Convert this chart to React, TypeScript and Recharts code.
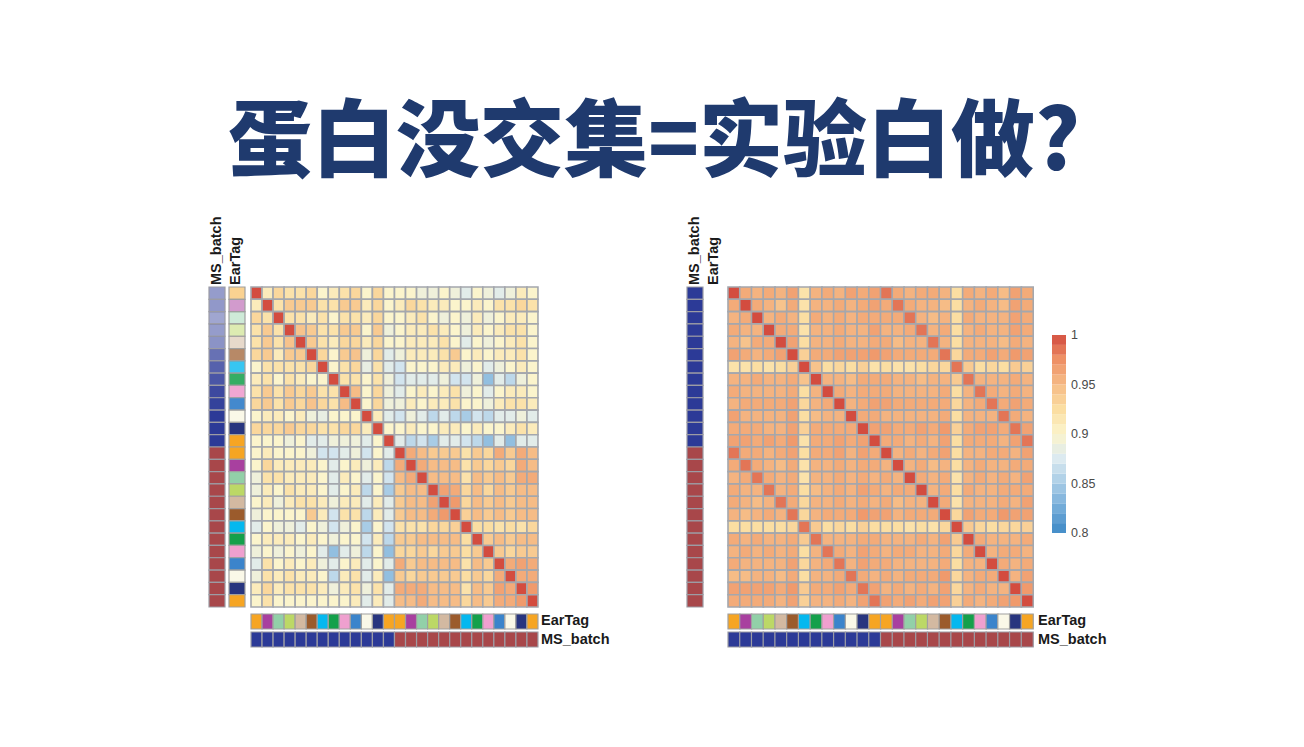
import React from "react";
import { BarChart, Bar, Cell, XAxis, YAxis } from "recharts";

// 26 samples: the same 13 ear tags measured in two MS batches
const EAR_TAGS = [
  "orange", "purple", "mint", "lime", "tan", "brown", "cyan", "green", "pink", "blue", "white", "navy", "orange",
  "orange", "purple", "mint", "lime", "tan", "brown", "cyan", "green", "pink", "blue", "white", "navy", "orange",
];
const MS_BATCHES = [
  "b1", "b1", "b1", "b1", "b1", "b1", "b1", "b1", "b1", "b1", "b1", "b1", "b1",
  "b2", "b2", "b2", "b2", "b2", "b2", "b2", "b2", "b2", "b2", "b2", "b2", "b2",
];

// correlation, upper triangle only (row i holds columns i+1..25)
const LEFT_UPPER = [
  [.91, .93, .92, .92, .93, .90, .91, .92, .93, .90, .93, .90, .90, .90, .89, .89, .90, .89, .88, .90, .89, .88, .89, .91, .90],
  [.92, .94, .94, .94, .92, .92, .94, .94, .91, .93, .90, .91, .93, .92, .91, .91, .90, .90, .91, .90, .92, .92, .93, .92],
  [.92, .92, .91, .92, .90, .92, .92, .91, .93, .90, .90, .91, .92, .90, .89, .90, .89, .91, .89, .90, .91, .91, .90],
  [.945, .94, .92, .92, .94, .94, .90, .94, .89, .90, .91, .91, .92, .91, .90, .89, .91, .90, .91, .92, .92, .90],
  [.94, .92, .91, .93, .93, .91, .93, .90, .90, .91, .91, .91, .92, .90, .88, .90, .89, .90, .91, .92, .90],
  [.93, .90, .94, .945, .89, .93, .88, .89, .91, .91, .91, .92, .94, .90, .91, .90, .91, .91, .92, .90],
  [.90, .92, .93, .885, .92, .88, .87, .90, .90, .90, .91, .91, .89, .90, .88, .89, .90, .91, .90],
  [.92, .92, .90, .92, .89, .87, .88, .88, .88, .89, .87, .87, .89, .84, .88, .86, .89, .90],
  [.95, .90, .93, .89, .88, .90, .91, .90, .91, .92, .89, .90, .88, .90, .91, .91, .90],
  [.90, .93, .89, .89, .91, .90, .91, .91, .92, .90, .90, .89, .91, .92, .92, .91],
  [.91, .88, .87, .89, .88, .86, .88, .86, .85, .87, .86, .88, .88, .89, .88],
  [.90, .90, .91, .90, .90, .91, .91, .90, .91, .90, .90, .91, .92, .91],
  [.88, .86, .87, .85, .88, .88, .87, .86, .84, .88, .84, .88, .88],
  [.96, .95, .94, .94, .94, .92, .94, .93, .96, .94, .96, .95],
  [.96, .95, .95, .95, .92, .94, .93, .94, .93, .96, .95],
  [.95, .95, .95, .92, .95, .94, .95, .94, .96, .96],
  [.965, .96, .93, .95, .93, .95, .94, .95, .95],
  [.97, .93, .95, .94, .95, .94, .95, .95],
  [.935, .95, .94, .95, .94, .95, .95],
  [.925, .925, .92, .925, .92, .93],
  [.94, .95, .94, .95, .95],
  [.94, .93, .94, .94],
  [.96, .965, .96],
  [.96, .96],
  [.97],
];

const RIGHT_UPPER = [
  [.96, .955, .96, .955, .965, .92, .955, .96, .955, .965, .96, .965, .985, .96, .955, .96, .96, .955, .925, .96, .955, .96, .95, .965, .96],
  [.96, .955, .945, .96, .92, .955, .955, .96, .955, .96, .965, .96, .985, .96, .955, .955, .95, .925, .955, .96, .955, .95, .965, .96],
  [.955, .96, .955, .925, .96, .955, .96, .955, .96, .96, .96, .96, .985, .955, .95, .955, .925, .96, .955, .955, .955, .965, .96],
  [.96, .96, .92, .955, .955, .96, .955, .955, .965, .955, .955, .96, .985, .955, .96, .925, .955, .96, .955, .955, .965, .96],
  [.965, .925, .955, .955, .96, .955, .955, .96, .96, .95, .955, .955, .985, .955, .925, .955, .955, .955, .95, .96, .955],
  [.935, .96, .96, .965, .965, .965, .97, .965, .96, .96, .96, .96, .985, .93, .96, .96, .965, .96, .97, .965],
  [.945, .925, .93, .925, .935, .92, .925, .92, .92, .925, .93, .93, .985, .94, .925, .93, .925, .94, .935],
  [.955, .955, .95, .96, .96, .96, .955, .955, .95, .955, .955, .94, .985, .955, .955, .955, .96, .955],
  [.96, .955, .96, .96, .96, .955, .955, .955, .955, .96, .925, .955, .985, .96, .955, .96, .955],
  [.955, .96, .965, .965, .96, .96, .96, .96, .96, .93, .955, .96, .985, .96, .965, .96],
  [.96, .96, .955, .955, .955, .955, .955, .96, .925, .955, .955, .955, .985, .96, .955],
  [.965, .965, .96, .96, .965, .96, .97, .935, .96, .965, .965, .96, .985, .965],
  [.96, .96, .955, .96, .955, .965, .925, .96, .96, .96, .955, .965, .985],
  [.955, .96, .955, .96, .965, .925, .955, .955, .96, .96, .955, .965],
  [.955, .96, .95, .955, .925, .955, .96, .955, .955, .96, .96],
  [.96, .955, .96, .92, .955, .96, .955, .96, .955, .965],
  [.955, .96, .925, .96, .955, .955, .96, .96, .96],
  [.96, .92, .955, .955, .955, .96, .955, .965],
  [.93, .965, .96, .96, .97, .965, .965],
  [.94, .93, .925, .93, .93, .935],
  [.96, .955, .955, .955, .96],
  [.955, .96, .96, .955],
  [.96, .955, .96],
  [.955, .965],
  [.97],
];

const LEGEND_TICKS = [0.8, 0.85, 0.9, 0.95, 1];

const TAG_COLORS: Record<string, string> = {
  orange: "#f6a523",
  purple: "#a8409f",
  mint: "#92d0a8",
  lime: "#bcd866",
  tan: "#d3b9a1",
  brown: "#9b5b2c",
  cyan: "#05b8ef",
  green: "#14a04b",
  pink: "#efa0cf",
  blue: "#3b84cb",
  white: "#faf8e8",
  navy: "#28357f",
};
const BATCH_COLORS: Record<string, string> = { b1: "#2c3a97", b2: "#a8474a" };

// RdYlBu-like ramp, 0.8 -> 1
const RAMP: [number, number[]][] = [
  [0.8, [62, 137, 198]],
  [0.825, [114, 171, 216]],
  [0.85, [168, 204, 230]],
  [0.875, [220, 234, 240]],
  [0.9, [251, 244, 204]],
  [0.925, [251, 222, 162]],
  [0.95, [246, 188, 134]],
  [0.975, [238, 145, 102]],
  [1, [211, 76, 63]],
];

const colorFor = (v: number) => {
  const x = Math.max(0.8, Math.min(1, v));
  for (let k = 1; k < RAMP.length; k++) {
    const [v1, c1] = RAMP[k];
    const [v0, c0] = RAMP[k - 1];
    if (x <= v1) {
      const t = (x - v0) / (v1 - v0);
      const c = c0.map((a, i) => Math.round(a + (c1[i] - a) * t));
      return `rgb(${c[0]},${c[1]},${c[2]})`;
    }
  }
  return "rgb(211,76,63)";
};

const fromUpper = (upper: number[][]) => {
  const n = upper.length + 1;
  const m = Array.from({ length: n }, () => Array(n).fill(1));
  upper.forEach((row, i) =>
    row.forEach((v, k) => {
      const j = i + 1 + k;
      m[i][j] = v;
      m[j][i] = v;
    })
  );
  return m as number[][];
};

// the top of the left-hand row annotation is washed out in the source image
const LEFT_FADE = [0.5, 0.52, 0.45, 0.5, 0.55, 0.72, 0.8, 0.86, 0.92, 0.96, 1, 1, 1, 1, 1, 1, 1, 1, 1, 1, 1, 1, 1, 1, 1, 1];

type TilesProps = {
  fills: string[][];
  width: number;
  height: number;
  stroke: string;
  strokeWidth?: number;
  opacity?: number[];
};

// a grid of coloured tiles: one stacked bar per column, one segment per row
const Tiles = ({ fills, width, height, stroke, strokeWidth = 1, opacity }: TilesProps) => {
  const nRows = fills.length;
  const nCols = fills[0].length;
  const data = Array.from({ length: nCols }, (_, j) => {
    const d: Record<string, number> = { col: j };
    for (let i = 0; i < nRows; i++) d[`r${i}`] = 1;
    return d;
  });
  return (
    <BarChart
      width={width + 2}
      height={height + 2}
      data={data}
      margin={{ top: 1, right: 1, bottom: 1, left: 1 }}
      barCategoryGap={0}
      barGap={0}
    >
      <XAxis dataKey="col" hide />
      <YAxis type="number" hide reversed domain={[0, nRows]} />
      {fills.map((row, i) => (
        <Bar
          key={i}
          dataKey={`r${i}`}
          stackId="t"
          isAnimationActive={false}
          stroke={stroke}
          strokeWidth={strokeWidth}
        >
          {row.map((f, j) => (
            <Cell key={j} fill={f} fillOpacity={opacity ? opacity[i] : 1} />
          ))}
        </Bar>
      ))}
    </BarChart>
  );
};

const Place: React.FC<{ left: number; top: number; children: React.ReactNode }> = ({ left, top, children }) => (
  <div style={{ position: "absolute", left: left - 1, top: top - 1 }}>{children}</div>
);

const labelFont: React.CSSProperties = {
  position: "absolute",
  fontFamily: "'Liberation Sans', Arial, sans-serif",
  fontWeight: 700,
  fontSize: 14.5,
  lineHeight: "15px",
  color: "#1a1a1a",
  whiteSpace: "nowrap",
};

const HLabel = ({ x, y, text }: { x: number; y: number; text: string }) => (
  <div style={{ ...labelFont, left: x, top: y - 8 }}>{text}</div>
);

// reads bottom to top, letter tops facing left
const VLabel = ({ x, bottom, text }: { x: number; bottom: number; text: string }) => (
  <div style={{ ...labelFont, left: x, top: bottom, transform: "rotate(-90deg)", transformOrigin: "0 0" }}>{text}</div>
);

// stepped colour key: an invisible base up to 0.8, then 20 steps of 0.01
const ColorLegend = () => {
  const keys = Array.from({ length: 20 }, (_, k) => k);
  const row: Record<string, number> = { base: 0.8 };
  keys.forEach((k) => (row[`s${k}`] = 0.01));
  return (
    <BarChart width={64} height={214} data={[row]} margin={{ top: 8, right: 0, bottom: 8, left: 0 }} barCategoryGap={0}>
      <XAxis hide />
      <YAxis
        type="number"
        orientation="right"
        domain={[0.8, 1]}
        allowDataOverflow
        ticks={LEGEND_TICKS}
        tickFormatter={(v: number) => String(v)}
        axisLine={false}
        tickLine={false}
        tickSize={2}
        tickMargin={3}
        width={50}
        interval={0}
        tick={{ fill: "#4a4a4a", fontSize: 12.5, fontFamily: "'Liberation Sans', Arial, sans-serif", textAnchor: "start" }}
      />
      <Bar dataKey="base" stackId="c" fill="none" isAnimationActive={false} />
      {keys.map((k) => (
        <Bar key={k} dataKey={`s${k}`} stackId="c" fill={colorFor(0.8 + k * 0.01 + 0.005)} isAnimationActive={false} />
      ))}
    </BarChart>
  );
};

const HeatPanel = ({
  upper,
  left,
  width,
  rowAnnoLeft,
  showRowTags,
  fade,
  labelsRight,
  vLabels,
}: {
  upper: number[][];
  left: number;
  width: number;
  rowAnnoLeft: number;
  showRowTags: boolean;
  fade?: number[];
  labelsRight: number;
  vLabels: [number, number];
}) => {
  const m = fromUpper(upper);
  const top = 287;
  const height = 320;
  const tagCol = EAR_TAGS.map((t) => [TAG_COLORS[t]]);
  const batchCol = MS_BATCHES.map((b) => [BATCH_COLORS[b]]);
  return (
    <>
      <Place left={left} top={top}>
        <Tiles fills={m.map((row) => row.map(colorFor))} width={width} height={height} stroke="#a4a7ad" strokeWidth={1.6} />
      </Place>
      <Place left={rowAnnoLeft} top={top}>
        <Tiles fills={batchCol} width={16} height={height} stroke="#9c9ca4" strokeWidth={1.2} opacity={fade} />
      </Place>
      {showRowTags && (
        <Place left={rowAnnoLeft + 20} top={top}>
          <Tiles fills={tagCol} width={16} height={height} stroke="#a0a0a0" strokeWidth={1.2} opacity={fade} />
        </Place>
      )}
      <Place left={left} top={614}>
        <Tiles fills={[EAR_TAGS.map((t) => TAG_COLORS[t])]} width={width} height={15} stroke="#a0a0a0" strokeWidth={1.2} />
      </Place>
      <Place left={left} top={632}>
        <Tiles fills={[MS_BATCHES.map((b) => BATCH_COLORS[b])]} width={width} height={15} stroke="#9c9ca4" strokeWidth={1.2} />
      </Place>
      <HLabel x={labelsRight} y={621} text="EarTag" />
      <HLabel x={labelsRight} y={640} text="MS_batch" />
      <VLabel x={vLabels[0]} bottom={285} text="MS_batch" />
      <VLabel x={vLabels[1]} bottom={285} text="EarTag" />
    </>
  );
};

export default function App() {
  return (
    <div style={{ position: "absolute", left: 0, top: 0, width: 1304, height: 747, background: "#fff", overflow: "hidden" }}>
      <div
        style={{
          position: "absolute",
          left: 0,
          top: 92,
          width: 1304,
          textAlign: "center",
          fontFamily: "'Noto Sans CJK SC', sans-serif",
          fontWeight: 900,
          fontSize: 84,
          lineHeight: "84px",
          color: "#1f3a6e",
          whiteSpace: "nowrap",
          paddingLeft: 4,
          boxSizing: "border-box",
        }}
      >
        蛋白没交集=实验白做?
      </div>
      <HeatPanel
        upper={LEFT_UPPER}
        left={251}
        width={287}
        rowAnnoLeft={209}
        showRowTags
        fade={LEFT_FADE}
        labelsRight={541}
        vLabels={[209, 228]}
      />
      <HeatPanel
        upper={RIGHT_UPPER}
        left={728}
        width={305}
        rowAnnoLeft={687}
        showRowTags={false}
        labelsRight={1038}
        vLabels={[687, 706]}
      />
      <div style={{ position: "absolute", left: 1052, top: 327 }}>
        <ColorLegend />
      </div>
    </div>
  );
}
